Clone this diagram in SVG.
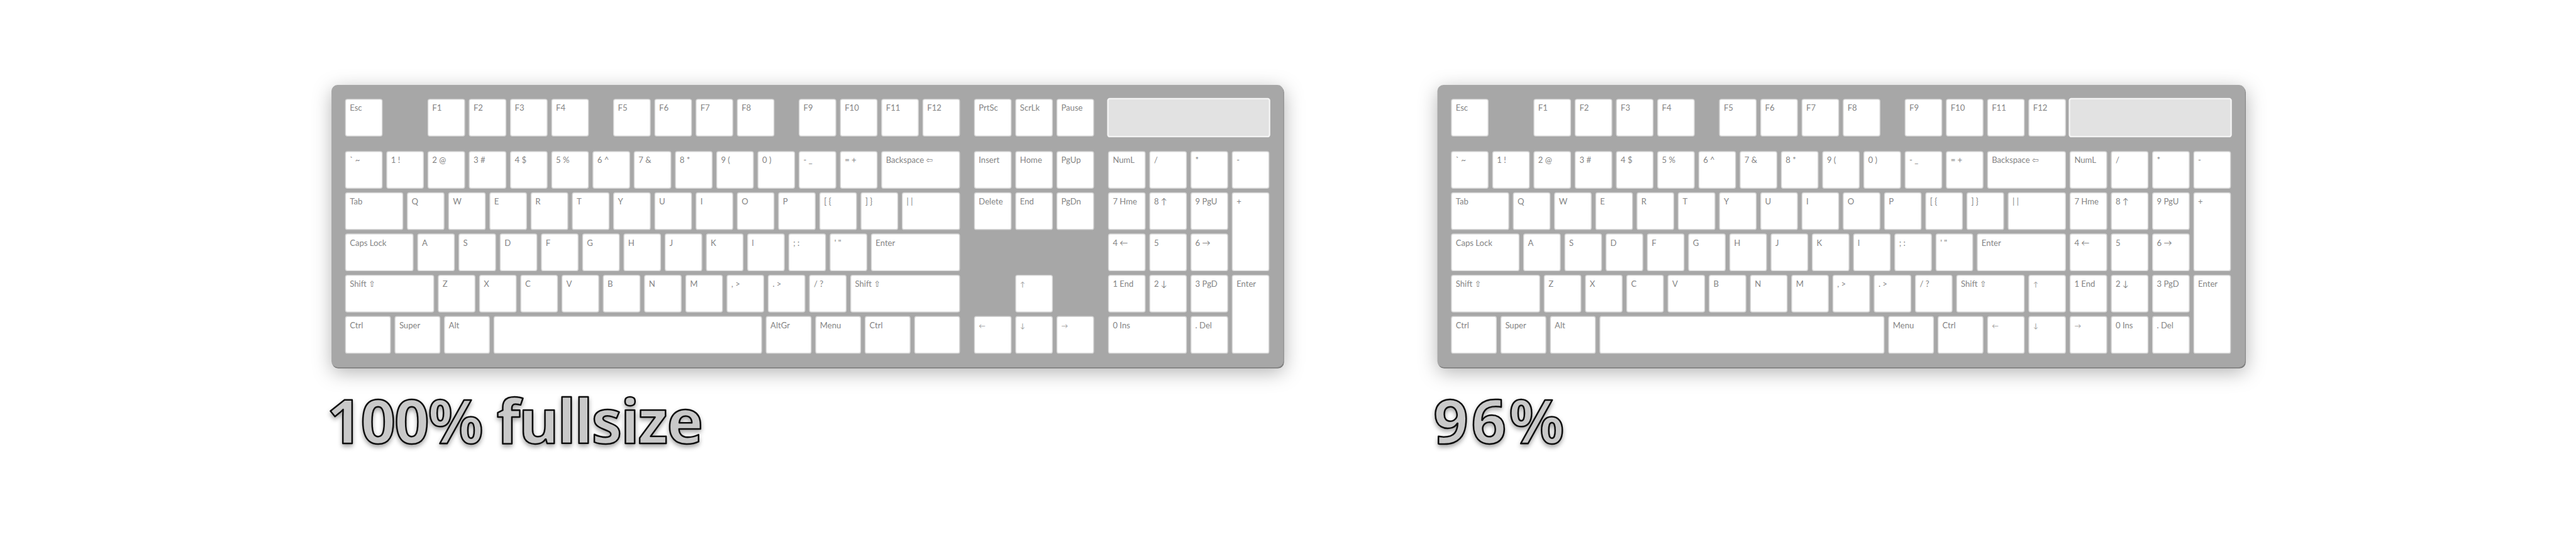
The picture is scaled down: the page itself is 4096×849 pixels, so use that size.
<svg xmlns="http://www.w3.org/2000/svg" width="4096" height="849" viewBox="0 0 4096 849">
<defs>
<style>
.body{fill:#a7a7a7}
.edge{fill:#7d7d7d}
.k rect{fill:#ffffff;stroke:#d6d6d6;stroke-width:1.5;rx:3px;ry:3px}
.k text{font-family:Lato,"DejaVu Sans",sans-serif;font-size:13.5px;fill:#858585}
.k text.ar{font-size:11px;fill:#9a9a9a}
.lcd{fill:#e2e2e2;stroke:#f4f4f4;stroke-width:2.5;rx:3px;ry:3px}
.title{font-family:"Noto Sans","DejaVu Sans",sans-serif;font-weight:700;font-size:100px;fill:#c9c9c9;stroke:#111111;stroke-width:2.6;stroke-linejoin:round}
</style>
<filter id="bodyShadow" x="-5%" y="-25%" width="110%" height="150%">
<feDropShadow dx="0" dy="6" stdDeviation="16" flood-color="#000" flood-opacity="0.3"/>
</filter>
<filter id="textShadow" x="-5%" y="-20%" width="110%" height="150%">
<feDropShadow dx="0" dy="4" stdDeviation="4" flood-color="#000" flood-opacity="0.35"/>
</filter>
</defs>
<rect width="4096" height="849" fill="#ffffff"/>
<g transform="scale(0.97154)">

<!-- ===== 100% fullsize keyboard ===== -->
<g id="kb-fullsize">
<g id="fs-case">
<rect class="edge" x="543.5" y="141" width="1558" height="462" rx="10" filter="url(#bodyShadow)"/>
<rect class="body" x="542.5" y="139" width="1558" height="462" rx="10"/>
</g>
<!-- F row -->
<g id="fs-esc" class="k"><rect x="565.5" y="162.5" width="60" height="60"/><text x="572.5" y="181.5">Esc</text></g>
<g id="fs-f1" class="k"><rect x="700.5" y="162.5" width="60" height="60"/><text x="707.5" y="181.5">F1</text></g>
<g id="fs-f2" class="k"><rect x="768" y="162.5" width="60" height="60"/><text x="775" y="181.5">F2</text></g>
<g id="fs-f3" class="k"><rect x="835.5" y="162.5" width="60" height="60"/><text x="842.5" y="181.5">F3</text></g>
<g id="fs-f4" class="k"><rect x="903" y="162.5" width="60" height="60"/><text x="910" y="181.5">F4</text></g>
<g id="fs-f5" class="k"><rect x="1004.25" y="162.5" width="60" height="60"/><text x="1011.25" y="181.5">F5</text></g>
<g id="fs-f6" class="k"><rect x="1071.75" y="162.5" width="60" height="60"/><text x="1078.75" y="181.5">F6</text></g>
<g id="fs-f7" class="k"><rect x="1139.25" y="162.5" width="60" height="60"/><text x="1146.25" y="181.5">F7</text></g>
<g id="fs-f8" class="k"><rect x="1206.75" y="162.5" width="60" height="60"/><text x="1213.75" y="181.5">F8</text></g>
<g id="fs-f9" class="k"><rect x="1308" y="162.5" width="60" height="60"/><text x="1315" y="181.5">F9</text></g>
<g id="fs-f10" class="k"><rect x="1375.5" y="162.5" width="60" height="60"/><text x="1382.5" y="181.5">F10</text></g>
<g id="fs-f11" class="k"><rect x="1443" y="162.5" width="60" height="60"/><text x="1450" y="181.5">F11</text></g>
<g id="fs-f12" class="k"><rect x="1510.5" y="162.5" width="60" height="60"/><text x="1517.5" y="181.5">F12</text></g>
<g id="fs-prtsc" class="k"><rect x="1594.875" y="162.5" width="60" height="60"/><text x="1601.875" y="181.5">PrtSc</text></g>
<g id="fs-scrlk" class="k"><rect x="1662.375" y="162.5" width="60" height="60"/><text x="1669.375" y="181.5">ScrLk</text></g>
<g id="fs-pause" class="k"><rect x="1729.875" y="162.5" width="60" height="60"/><text x="1736.875" y="181.5">Pause</text></g>
<g id="fs-lcd"><rect class="lcd" x="1813.25" y="161.5" width="264.5" height="62"/></g>
<!-- Number row -->
<g id="fs-grave" class="k"><rect x="565.5" y="248" width="60" height="60"/><text x="572.5" y="267">` ~</text></g>
<g id="fs-1" class="k"><rect x="633" y="248" width="60" height="60"/><text x="640" y="267">1 !</text></g>
<g id="fs-2" class="k"><rect x="700.5" y="248" width="60" height="60"/><text x="707.5" y="267">2 @</text></g>
<g id="fs-3" class="k"><rect x="768" y="248" width="60" height="60"/><text x="775" y="267">3 #</text></g>
<g id="fs-4" class="k"><rect x="835.5" y="248" width="60" height="60"/><text x="842.5" y="267">4 $</text></g>
<g id="fs-5" class="k"><rect x="903" y="248" width="60" height="60"/><text x="910" y="267">5 %</text></g>
<g id="fs-6" class="k"><rect x="970.5" y="248" width="60" height="60"/><text x="977.5" y="267">6 ^</text></g>
<g id="fs-7" class="k"><rect x="1038" y="248" width="60" height="60"/><text x="1045" y="267">7 &amp;</text></g>
<g id="fs-8" class="k"><rect x="1105.5" y="248" width="60" height="60"/><text x="1112.5" y="267">8 *</text></g>
<g id="fs-9" class="k"><rect x="1173" y="248" width="60" height="60"/><text x="1180" y="267">9 (</text></g>
<g id="fs-0" class="k"><rect x="1240.5" y="248" width="60" height="60"/><text x="1247.5" y="267">0 )</text></g>
<g id="fs-minus" class="k"><rect x="1308" y="248" width="60" height="60"/><text x="1315" y="267">- _</text></g>
<g id="fs-equal" class="k"><rect x="1375.5" y="248" width="60" height="60"/><text x="1382.5" y="267">= +</text></g>
<g id="fs-bksp" class="k"><rect x="1443" y="248" width="127.5" height="60"/><text x="1450" y="267">Backspace ⇦</text></g>
<g id="fs-insert" class="k"><rect x="1594.875" y="248" width="60" height="60"/><text x="1601.875" y="267">Insert</text></g>
<g id="fs-home" class="k"><rect x="1662.375" y="248" width="60" height="60"/><text x="1669.375" y="267">Home</text></g>
<g id="fs-pgup" class="k"><rect x="1729.875" y="248" width="60" height="60"/><text x="1736.875" y="267">PgUp</text></g>
<g id="fs-numl" class="k"><rect x="1814.25" y="248" width="60" height="60"/><text x="1821.25" y="267">NumL</text></g>
<g id="fs-kpdiv" class="k"><rect x="1881.75" y="248" width="60" height="60"/><text x="1888.75" y="267">/</text></g>
<g id="fs-kpmul" class="k"><rect x="1949.25" y="248" width="60" height="60"/><text x="1956.25" y="267">*</text></g>
<g id="fs-kpsub" class="k"><rect x="2016.75" y="248" width="60" height="60"/><text x="2023.75" y="267">-</text></g>
<!-- Tab row -->
<g id="fs-tab" class="k"><rect x="565.5" y="315.5" width="93.75" height="60"/><text x="572.5" y="334.5">Tab</text></g>
<g id="fs-q" class="k"><rect x="666.75" y="315.5" width="60" height="60"/><text x="673.75" y="334.5">Q</text></g>
<g id="fs-w" class="k"><rect x="734.25" y="315.5" width="60" height="60"/><text x="741.25" y="334.5">W</text></g>
<g id="fs-e" class="k"><rect x="801.75" y="315.5" width="60" height="60"/><text x="808.75" y="334.5">E</text></g>
<g id="fs-r" class="k"><rect x="869.25" y="315.5" width="60" height="60"/><text x="876.25" y="334.5">R</text></g>
<g id="fs-t" class="k"><rect x="936.75" y="315.5" width="60" height="60"/><text x="943.75" y="334.5">T</text></g>
<g id="fs-y" class="k"><rect x="1004.25" y="315.5" width="60" height="60"/><text x="1011.25" y="334.5">Y</text></g>
<g id="fs-u" class="k"><rect x="1071.75" y="315.5" width="60" height="60"/><text x="1078.75" y="334.5">U</text></g>
<g id="fs-i" class="k"><rect x="1139.25" y="315.5" width="60" height="60"/><text x="1146.25" y="334.5">I</text></g>
<g id="fs-o" class="k"><rect x="1206.75" y="315.5" width="60" height="60"/><text x="1213.75" y="334.5">O</text></g>
<g id="fs-p" class="k"><rect x="1274.25" y="315.5" width="60" height="60"/><text x="1281.25" y="334.5">P</text></g>
<g id="fs-lbr" class="k"><rect x="1341.75" y="315.5" width="60" height="60"/><text x="1348.75" y="334.5">[ {</text></g>
<g id="fs-rbr" class="k"><rect x="1409.25" y="315.5" width="60" height="60"/><text x="1416.25" y="334.5">] }</text></g>
<g id="fs-bslash" class="k"><rect x="1476.75" y="315.5" width="93.75" height="60"/><text x="1483.75" y="334.5">| |</text></g>
<g id="fs-delete" class="k"><rect x="1594.875" y="315.5" width="60" height="60"/><text x="1601.875" y="334.5">Delete</text></g>
<g id="fs-end" class="k"><rect x="1662.375" y="315.5" width="60" height="60"/><text x="1669.375" y="334.5">End</text></g>
<g id="fs-pgdn" class="k"><rect x="1729.875" y="315.5" width="60" height="60"/><text x="1736.875" y="334.5">PgDn</text></g>
<g id="fs-kp7" class="k"><rect x="1814.25" y="315.5" width="60" height="60"/><text x="1821.25" y="334.5">7 Hme</text></g>
<g id="fs-kp8" class="k"><rect x="1881.75" y="315.5" width="60" height="60"/><text x="1888.75" y="334.5">8 ↑</text></g>
<g id="fs-kp9" class="k"><rect x="1949.25" y="315.5" width="60" height="60"/><text x="1956.25" y="334.5">9 PgU</text></g>
<g id="fs-kpadd" class="k"><rect x="2016.75" y="315.5" width="60" height="127.5"/><text x="2023.75" y="334.5">+</text></g>
<!-- Caps row -->
<g id="fs-caps" class="k"><rect x="565.5" y="383" width="110.625" height="60"/><text x="572.5" y="402">Caps Lock</text></g>
<g id="fs-a" class="k"><rect x="683.625" y="383" width="60" height="60"/><text x="690.625" y="402">A</text></g>
<g id="fs-s" class="k"><rect x="751.125" y="383" width="60" height="60"/><text x="758.125" y="402">S</text></g>
<g id="fs-d" class="k"><rect x="818.625" y="383" width="60" height="60"/><text x="825.625" y="402">D</text></g>
<g id="fs-f" class="k"><rect x="886.125" y="383" width="60" height="60"/><text x="893.125" y="402">F</text></g>
<g id="fs-g" class="k"><rect x="953.625" y="383" width="60" height="60"/><text x="960.625" y="402">G</text></g>
<g id="fs-h" class="k"><rect x="1021.125" y="383" width="60" height="60"/><text x="1028.125" y="402">H</text></g>
<g id="fs-j" class="k"><rect x="1088.625" y="383" width="60" height="60"/><text x="1095.625" y="402">J</text></g>
<g id="fs-k" class="k"><rect x="1156.125" y="383" width="60" height="60"/><text x="1163.125" y="402">K</text></g>
<g id="fs-l" class="k"><rect x="1223.625" y="383" width="60" height="60"/><text x="1230.625" y="402">l</text></g>
<g id="fs-semi" class="k"><rect x="1291.125" y="383" width="60" height="60"/><text x="1298.125" y="402">; :</text></g>
<g id="fs-quote" class="k"><rect x="1358.625" y="383" width="60" height="60"/><text x="1365.625" y="402">' "</text></g>
<g id="fs-enter" class="k"><rect x="1426.125" y="383" width="144.375" height="60"/><text x="1433.125" y="402">Enter</text></g>
<g id="fs-kp4" class="k"><rect x="1814.25" y="383" width="60" height="60"/><text x="1821.25" y="402">4 ←</text></g>
<g id="fs-kp5" class="k"><rect x="1881.75" y="383" width="60" height="60"/><text x="1888.75" y="402">5</text></g>
<g id="fs-kp6" class="k"><rect x="1949.25" y="383" width="60" height="60"/><text x="1956.25" y="402">6 →</text></g>
<!-- Shift row -->
<g id="fs-lshift" class="k"><rect x="565.5" y="450.5" width="144.375" height="60"/><text x="572.5" y="469.5">Shift ⇧</text></g>
<g id="fs-z" class="k"><rect x="717.375" y="450.5" width="60" height="60"/><text x="724.375" y="469.5">Z</text></g>
<g id="fs-x" class="k"><rect x="784.875" y="450.5" width="60" height="60"/><text x="791.875" y="469.5">X</text></g>
<g id="fs-c" class="k"><rect x="852.375" y="450.5" width="60" height="60"/><text x="859.375" y="469.5">C</text></g>
<g id="fs-v" class="k"><rect x="919.875" y="450.5" width="60" height="60"/><text x="926.875" y="469.5">V</text></g>
<g id="fs-b" class="k"><rect x="987.375" y="450.5" width="60" height="60"/><text x="994.375" y="469.5">B</text></g>
<g id="fs-n" class="k"><rect x="1054.875" y="450.5" width="60" height="60"/><text x="1061.875" y="469.5">N</text></g>
<g id="fs-m" class="k"><rect x="1122.375" y="450.5" width="60" height="60"/><text x="1129.375" y="469.5">M</text></g>
<g id="fs-comma" class="k"><rect x="1189.875" y="450.5" width="60" height="60"/><text x="1196.875" y="469.5">, &gt;</text></g>
<g id="fs-period" class="k"><rect x="1257.375" y="450.5" width="60" height="60"/><text x="1264.375" y="469.5">. &gt;</text></g>
<g id="fs-slash" class="k"><rect x="1324.875" y="450.5" width="60" height="60"/><text x="1331.875" y="469.5">/ ?</text></g>
<g id="fs-rshift" class="k"><rect x="1392.375" y="450.5" width="178.125" height="60"/><text x="1399.375" y="469.5">Shift ⇧</text></g>
<g id="fs-up" class="k"><rect x="1662.375" y="450.5" width="60" height="60"/><text class="ar" x="1669.375" y="469.5">↑</text></g>
<g id="fs-kp1" class="k"><rect x="1814.25" y="450.5" width="60" height="60"/><text x="1821.25" y="469.5">1 End</text></g>
<g id="fs-kp2" class="k"><rect x="1881.75" y="450.5" width="60" height="60"/><text x="1888.75" y="469.5">2 ↓</text></g>
<g id="fs-kp3" class="k"><rect x="1949.25" y="450.5" width="60" height="60"/><text x="1956.25" y="469.5">3 PgD</text></g>
<g id="fs-kpenter" class="k"><rect x="2016.75" y="450.5" width="60" height="127.5"/><text x="2023.75" y="469.5">Enter</text></g>
<!-- Bottom row -->
<g id="fs-lctrl" class="k"><rect x="565.5" y="518" width="73.5" height="60"/><text x="572.5" y="537">Ctrl</text></g>
<g id="fs-super" class="k"><rect x="646.5" y="518" width="73.5" height="60"/><text x="653.5" y="537">Super</text></g>
<g id="fs-alt" class="k"><rect x="727.5" y="518" width="73.5" height="60"/><text x="734.5" y="537">Alt</text></g>
<g id="fs-space" class="k"><rect x="808.5" y="518" width="438" height="60"/></g>
<g id="fs-altgr" class="k"><rect x="1254" y="518" width="73.5" height="60"/><text x="1261" y="537">AltGr</text></g>
<g id="fs-menu" class="k"><rect x="1335" y="518" width="73.5" height="60"/><text x="1342" y="537">Menu</text></g>
<g id="fs-rctrl" class="k"><rect x="1416" y="518" width="73.5" height="60"/><text x="1423" y="537">Ctrl</text></g>
<g id="fs-blank" class="k"><rect x="1497" y="518" width="73.5" height="60"/></g>
<g id="fs-left" class="k"><rect x="1594.875" y="518" width="60" height="60"/><text class="ar" x="1601.875" y="537">←</text></g>
<g id="fs-down" class="k"><rect x="1662.375" y="518" width="60" height="60"/><text class="ar" x="1669.375" y="537">↓</text></g>
<g id="fs-right" class="k"><rect x="1729.875" y="518" width="60" height="60"/><text class="ar" x="1736.875" y="537">→</text></g>
<g id="fs-kp0" class="k"><rect x="1814.25" y="518" width="127.5" height="60"/><text x="1821.25" y="537">0 Ins</text></g>
<g id="fs-kpdel" class="k"><rect x="1949.25" y="518" width="60" height="60"/><text x="1956.25" y="537">. Del</text></g>
</g>
<g id="title-fullsize"><text class="title" x="535" y="726" textLength="616" lengthAdjust="spacing" filter="url(#textShadow)">100% fullsize</text></g>

<!-- ===== 96% keyboard ===== -->
<g id="kb-96" transform="translate(1810 0)">
<g id="k96-case">
<rect class="edge" x="543.5" y="141" width="1322" height="462" rx="10" filter="url(#bodyShadow)"/>
<rect class="body" x="542.5" y="139" width="1322" height="462" rx="10"/>
</g>
<!-- F row -->
<g id="k96-esc" class="k"><rect x="565.5" y="162.5" width="60" height="60"/><text x="572.5" y="181.5">Esc</text></g>
<g id="k96-f1" class="k"><rect x="700.5" y="162.5" width="60" height="60"/><text x="707.5" y="181.5">F1</text></g>
<g id="k96-f2" class="k"><rect x="768" y="162.5" width="60" height="60"/><text x="775" y="181.5">F2</text></g>
<g id="k96-f3" class="k"><rect x="835.5" y="162.5" width="60" height="60"/><text x="842.5" y="181.5">F3</text></g>
<g id="k96-f4" class="k"><rect x="903" y="162.5" width="60" height="60"/><text x="910" y="181.5">F4</text></g>
<g id="k96-f5" class="k"><rect x="1004.25" y="162.5" width="60" height="60"/><text x="1011.25" y="181.5">F5</text></g>
<g id="k96-f6" class="k"><rect x="1071.75" y="162.5" width="60" height="60"/><text x="1078.75" y="181.5">F6</text></g>
<g id="k96-f7" class="k"><rect x="1139.25" y="162.5" width="60" height="60"/><text x="1146.25" y="181.5">F7</text></g>
<g id="k96-f8" class="k"><rect x="1206.75" y="162.5" width="60" height="60"/><text x="1213.75" y="181.5">F8</text></g>
<g id="k96-f9" class="k"><rect x="1308" y="162.5" width="60" height="60"/><text x="1315" y="181.5">F9</text></g>
<g id="k96-f10" class="k"><rect x="1375.5" y="162.5" width="60" height="60"/><text x="1382.5" y="181.5">F10</text></g>
<g id="k96-f11" class="k"><rect x="1443" y="162.5" width="60" height="60"/><text x="1450" y="181.5">F11</text></g>
<g id="k96-f12" class="k"><rect x="1510.5" y="162.5" width="60" height="60"/><text x="1517.5" y="181.5">F12</text></g>
<g id="k96-lcd"><rect class="lcd" x="1577" y="161.5" width="264.5" height="62"/></g>
<!-- Number row -->
<g id="k96-grave" class="k"><rect x="565.5" y="248" width="60" height="60"/><text x="572.5" y="267">` ~</text></g>
<g id="k96-1" class="k"><rect x="633" y="248" width="60" height="60"/><text x="640" y="267">1 !</text></g>
<g id="k96-2" class="k"><rect x="700.5" y="248" width="60" height="60"/><text x="707.5" y="267">2 @</text></g>
<g id="k96-3" class="k"><rect x="768" y="248" width="60" height="60"/><text x="775" y="267">3 #</text></g>
<g id="k96-4" class="k"><rect x="835.5" y="248" width="60" height="60"/><text x="842.5" y="267">4 $</text></g>
<g id="k96-5" class="k"><rect x="903" y="248" width="60" height="60"/><text x="910" y="267">5 %</text></g>
<g id="k96-6" class="k"><rect x="970.5" y="248" width="60" height="60"/><text x="977.5" y="267">6 ^</text></g>
<g id="k96-7" class="k"><rect x="1038" y="248" width="60" height="60"/><text x="1045" y="267">7 &amp;</text></g>
<g id="k96-8" class="k"><rect x="1105.5" y="248" width="60" height="60"/><text x="1112.5" y="267">8 *</text></g>
<g id="k96-9" class="k"><rect x="1173" y="248" width="60" height="60"/><text x="1180" y="267">9 (</text></g>
<g id="k96-0" class="k"><rect x="1240.5" y="248" width="60" height="60"/><text x="1247.5" y="267">0 )</text></g>
<g id="k96-minus" class="k"><rect x="1308" y="248" width="60" height="60"/><text x="1315" y="267">- _</text></g>
<g id="k96-equal" class="k"><rect x="1375.5" y="248" width="60" height="60"/><text x="1382.5" y="267">= +</text></g>
<g id="k96-bksp" class="k"><rect x="1443" y="248" width="127.5" height="60"/><text x="1450" y="267">Backspace ⇦</text></g>
<g id="k96-numl" class="k"><rect x="1578" y="248" width="60" height="60"/><text x="1585" y="267">NumL</text></g>
<g id="k96-kpdiv" class="k"><rect x="1645.5" y="248" width="60" height="60"/><text x="1652.5" y="267">/</text></g>
<g id="k96-kpmul" class="k"><rect x="1713" y="248" width="60" height="60"/><text x="1720" y="267">*</text></g>
<g id="k96-kpsub" class="k"><rect x="1780.5" y="248" width="60" height="60"/><text x="1787.5" y="267">-</text></g>
<!-- Tab row -->
<g id="k96-tab" class="k"><rect x="565.5" y="315.5" width="93.75" height="60"/><text x="572.5" y="334.5">Tab</text></g>
<g id="k96-q" class="k"><rect x="666.75" y="315.5" width="60" height="60"/><text x="673.75" y="334.5">Q</text></g>
<g id="k96-w" class="k"><rect x="734.25" y="315.5" width="60" height="60"/><text x="741.25" y="334.5">W</text></g>
<g id="k96-e" class="k"><rect x="801.75" y="315.5" width="60" height="60"/><text x="808.75" y="334.5">E</text></g>
<g id="k96-r" class="k"><rect x="869.25" y="315.5" width="60" height="60"/><text x="876.25" y="334.5">R</text></g>
<g id="k96-t" class="k"><rect x="936.75" y="315.5" width="60" height="60"/><text x="943.75" y="334.5">T</text></g>
<g id="k96-y" class="k"><rect x="1004.25" y="315.5" width="60" height="60"/><text x="1011.25" y="334.5">Y</text></g>
<g id="k96-u" class="k"><rect x="1071.75" y="315.5" width="60" height="60"/><text x="1078.75" y="334.5">U</text></g>
<g id="k96-i" class="k"><rect x="1139.25" y="315.5" width="60" height="60"/><text x="1146.25" y="334.5">I</text></g>
<g id="k96-o" class="k"><rect x="1206.75" y="315.5" width="60" height="60"/><text x="1213.75" y="334.5">O</text></g>
<g id="k96-p" class="k"><rect x="1274.25" y="315.5" width="60" height="60"/><text x="1281.25" y="334.5">P</text></g>
<g id="k96-lbr" class="k"><rect x="1341.75" y="315.5" width="60" height="60"/><text x="1348.75" y="334.5">[ {</text></g>
<g id="k96-rbr" class="k"><rect x="1409.25" y="315.5" width="60" height="60"/><text x="1416.25" y="334.5">] }</text></g>
<g id="k96-bslash" class="k"><rect x="1476.75" y="315.5" width="93.75" height="60"/><text x="1483.75" y="334.5">| |</text></g>
<g id="k96-kp7" class="k"><rect x="1578" y="315.5" width="60" height="60"/><text x="1585" y="334.5">7 Hme</text></g>
<g id="k96-kp8" class="k"><rect x="1645.5" y="315.5" width="60" height="60"/><text x="1652.5" y="334.5">8 ↑</text></g>
<g id="k96-kp9" class="k"><rect x="1713" y="315.5" width="60" height="60"/><text x="1720" y="334.5">9 PgU</text></g>
<g id="k96-kpadd" class="k"><rect x="1780.5" y="315.5" width="60" height="127.5"/><text x="1787.5" y="334.5">+</text></g>
<!-- Caps row -->
<g id="k96-caps" class="k"><rect x="565.5" y="383" width="110.625" height="60"/><text x="572.5" y="402">Caps Lock</text></g>
<g id="k96-a" class="k"><rect x="683.625" y="383" width="60" height="60"/><text x="690.625" y="402">A</text></g>
<g id="k96-s" class="k"><rect x="751.125" y="383" width="60" height="60"/><text x="758.125" y="402">S</text></g>
<g id="k96-d" class="k"><rect x="818.625" y="383" width="60" height="60"/><text x="825.625" y="402">D</text></g>
<g id="k96-f" class="k"><rect x="886.125" y="383" width="60" height="60"/><text x="893.125" y="402">F</text></g>
<g id="k96-g" class="k"><rect x="953.625" y="383" width="60" height="60"/><text x="960.625" y="402">G</text></g>
<g id="k96-h" class="k"><rect x="1021.125" y="383" width="60" height="60"/><text x="1028.125" y="402">H</text></g>
<g id="k96-j" class="k"><rect x="1088.625" y="383" width="60" height="60"/><text x="1095.625" y="402">J</text></g>
<g id="k96-k" class="k"><rect x="1156.125" y="383" width="60" height="60"/><text x="1163.125" y="402">K</text></g>
<g id="k96-l" class="k"><rect x="1223.625" y="383" width="60" height="60"/><text x="1230.625" y="402">l</text></g>
<g id="k96-semi" class="k"><rect x="1291.125" y="383" width="60" height="60"/><text x="1298.125" y="402">; :</text></g>
<g id="k96-quote" class="k"><rect x="1358.625" y="383" width="60" height="60"/><text x="1365.625" y="402">' "</text></g>
<g id="k96-enter" class="k"><rect x="1426.125" y="383" width="144.375" height="60"/><text x="1433.125" y="402">Enter</text></g>
<g id="k96-kp4" class="k"><rect x="1578" y="383" width="60" height="60"/><text x="1585" y="402">4 ←</text></g>
<g id="k96-kp5" class="k"><rect x="1645.5" y="383" width="60" height="60"/><text x="1652.5" y="402">5</text></g>
<g id="k96-kp6" class="k"><rect x="1713" y="383" width="60" height="60"/><text x="1720" y="402">6 →</text></g>
<!-- Shift row -->
<g id="k96-lshift" class="k"><rect x="565.5" y="450.5" width="144.375" height="60"/><text x="572.5" y="469.5">Shift ⇧</text></g>
<g id="k96-z" class="k"><rect x="717.375" y="450.5" width="60" height="60"/><text x="724.375" y="469.5">Z</text></g>
<g id="k96-x" class="k"><rect x="784.875" y="450.5" width="60" height="60"/><text x="791.875" y="469.5">X</text></g>
<g id="k96-c" class="k"><rect x="852.375" y="450.5" width="60" height="60"/><text x="859.375" y="469.5">C</text></g>
<g id="k96-v" class="k"><rect x="919.875" y="450.5" width="60" height="60"/><text x="926.875" y="469.5">V</text></g>
<g id="k96-b" class="k"><rect x="987.375" y="450.5" width="60" height="60"/><text x="994.375" y="469.5">B</text></g>
<g id="k96-n" class="k"><rect x="1054.875" y="450.5" width="60" height="60"/><text x="1061.875" y="469.5">N</text></g>
<g id="k96-m" class="k"><rect x="1122.375" y="450.5" width="60" height="60"/><text x="1129.375" y="469.5">M</text></g>
<g id="k96-comma" class="k"><rect x="1189.875" y="450.5" width="60" height="60"/><text x="1196.875" y="469.5">, &gt;</text></g>
<g id="k96-period" class="k"><rect x="1257.375" y="450.5" width="60" height="60"/><text x="1264.375" y="469.5">. &gt;</text></g>
<g id="k96-slash" class="k"><rect x="1324.875" y="450.5" width="60" height="60"/><text x="1331.875" y="469.5">/ ?</text></g>
<g id="k96-rshift" class="k"><rect x="1392.375" y="450.5" width="110.625" height="60"/><text x="1399.375" y="469.5">Shift ⇧</text></g>
<g id="k96-up" class="k"><rect x="1510.5" y="450.5" width="60" height="60"/><text class="ar" x="1517.5" y="469.5">↑</text></g>
<g id="k96-kp1" class="k"><rect x="1578" y="450.5" width="60" height="60"/><text x="1585" y="469.5">1 End</text></g>
<g id="k96-kp2" class="k"><rect x="1645.5" y="450.5" width="60" height="60"/><text x="1652.5" y="469.5">2 ↓</text></g>
<g id="k96-kp3" class="k"><rect x="1713" y="450.5" width="60" height="60"/><text x="1720" y="469.5">3 PgD</text></g>
<g id="k96-kpenter" class="k"><rect x="1780.5" y="450.5" width="60" height="127.5"/><text x="1787.5" y="469.5">Enter</text></g>
<!-- Bottom row -->
<g id="k96-lctrl" class="k"><rect x="565.5" y="518" width="73.5" height="60"/><text x="572.5" y="537">Ctrl</text></g>
<g id="k96-super" class="k"><rect x="646.5" y="518" width="73.5" height="60"/><text x="653.5" y="537">Super</text></g>
<g id="k96-alt" class="k"><rect x="727.5" y="518" width="73.5" height="60"/><text x="734.5" y="537">Alt</text></g>
<g id="k96-space" class="k"><rect x="808.5" y="518" width="465" height="60"/></g>
<g id="k96-menu" class="k"><rect x="1281" y="518" width="73.5" height="60"/><text x="1288" y="537">Menu</text></g>
<g id="k96-rctrl" class="k"><rect x="1362" y="518" width="73.5" height="60"/><text x="1369" y="537">Ctrl</text></g>
<g id="k96-left" class="k"><rect x="1443" y="518" width="60" height="60"/><text class="ar" x="1450" y="537">←</text></g>
<g id="k96-down" class="k"><rect x="1510.5" y="518" width="60" height="60"/><text class="ar" x="1517.5" y="537">↓</text></g>
<g id="k96-right" class="k"><rect x="1578" y="518" width="60" height="60"/><text class="ar" x="1585" y="537">→</text></g>
<g id="k96-kp0" class="k"><rect x="1645.5" y="518" width="60" height="60"/><text x="1652.5" y="537">0 Ins</text></g>
<g id="k96-kpdel" class="k"><rect x="1713" y="518" width="60" height="60"/><text x="1720" y="537">. Del</text></g>
</g>
<g id="title-96"><text class="title" x="2346" y="726" textLength="214" lengthAdjust="spacing" filter="url(#textShadow)">96%</text></g>

<g id="connectors"/>
</g>
</svg>
